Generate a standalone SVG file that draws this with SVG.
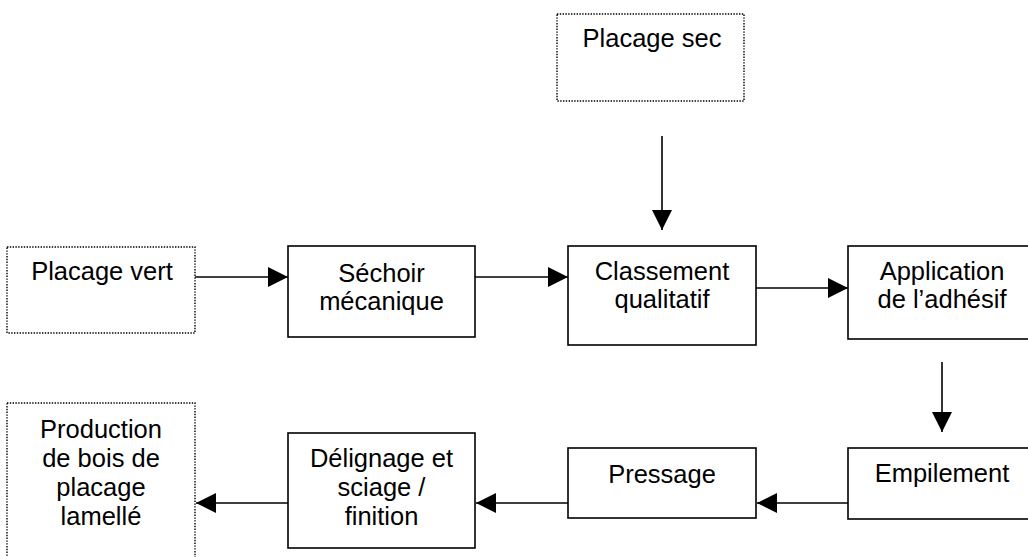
<svg xmlns="http://www.w3.org/2000/svg" width="1028" height="557" viewBox="0 0 1028 557">
<defs>
<style>
.box{fill:#fff;stroke:#000;stroke-width:1.6}
.dot{fill:#fff;stroke:#000;stroke-width:1.4;stroke-dasharray:1.4 1.4}
.t{font-family:"Liberation Sans",Arial,sans-serif;font-size:25.5px;fill:#000;text-anchor:middle}
.c{stroke:#000;stroke-width:1.6;fill:none;marker-end:url(#ah)}
</style>
<marker id="ah" markerUnits="userSpaceOnUse" markerWidth="20" markerHeight="20" refX="20" refY="10" orient="auto" viewBox="0 0 20 20">
<path d="M0,0 L20,10 L0,20 Z" fill="#000"/>
</marker>
</defs>
<rect width="1028" height="557" fill="#fff"/>
<g id="connectors">
<line class="c" x1="662" y1="136" x2="662" y2="230"/>
<line class="c" x1="195" y1="277" x2="288" y2="277"/>
<line class="c" x1="475" y1="277" x2="568" y2="277"/>
<line class="c" x1="756" y1="288" x2="848" y2="288"/>
<line class="c" x1="942" y1="362" x2="942" y2="432"/>
<line class="c" x1="848" y1="503" x2="757" y2="503"/>
<line class="c" x1="568" y1="503" x2="476" y2="503"/>
<line class="c" x1="288" y1="503" x2="196" y2="503"/>
</g>
<g id="placage-sec">
<rect class="dot" x="557" y="14" width="187" height="87"/>
<text class="t" x="652" y="47">Placage sec</text>
</g>
<g id="placage-vert">
<rect class="dot" x="7" y="247" width="188" height="86"/>
<text class="t" x="102" y="280">Placage vert</text>
</g>
<g id="sechoir">
<rect class="box" x="288" y="246" width="187" height="91"/>
<text class="t" x="381.5" y="282">Séchoir</text>
<text class="t" x="381.5" y="310">mécanique</text>
</g>
<g id="classement">
<rect class="box" x="568" y="246" width="188" height="99"/>
<text class="t" x="662" y="280">Classement</text>
<text class="t" x="662" y="308">qualitatif</text>
</g>
<g id="application">
<rect class="box" x="848" y="246" width="188" height="93"/>
<text class="t" x="942" y="280">Application</text>
<text class="t" x="942" y="308">de l’adhésif</text>
</g>
<g id="empilement">
<rect class="box" x="848" y="448" width="188" height="71"/>
<text class="t" x="942" y="482">Empilement</text>
</g>
<g id="pressage">
<rect class="box" x="568" y="448" width="188" height="70"/>
<text class="t" x="662" y="483">Pressage</text>
</g>
<g id="delignage">
<rect class="box" x="288" y="433" width="187" height="115"/>
<text class="t" x="381.5" y="467">Délignage et</text>
<text class="t" x="381.5" y="496">sciage /</text>
<text class="t" x="381.5" y="525">finition</text>
</g>
<g id="production">
<rect class="dot" x="7" y="403" width="188" height="160"/>
<text class="t" x="101" y="438">Production</text>
<text class="t" x="101" y="467">de bois de</text>
<text class="t" x="101" y="496">placage</text>
<text class="t" x="101" y="525">lamellé</text>
</g>
</svg>
